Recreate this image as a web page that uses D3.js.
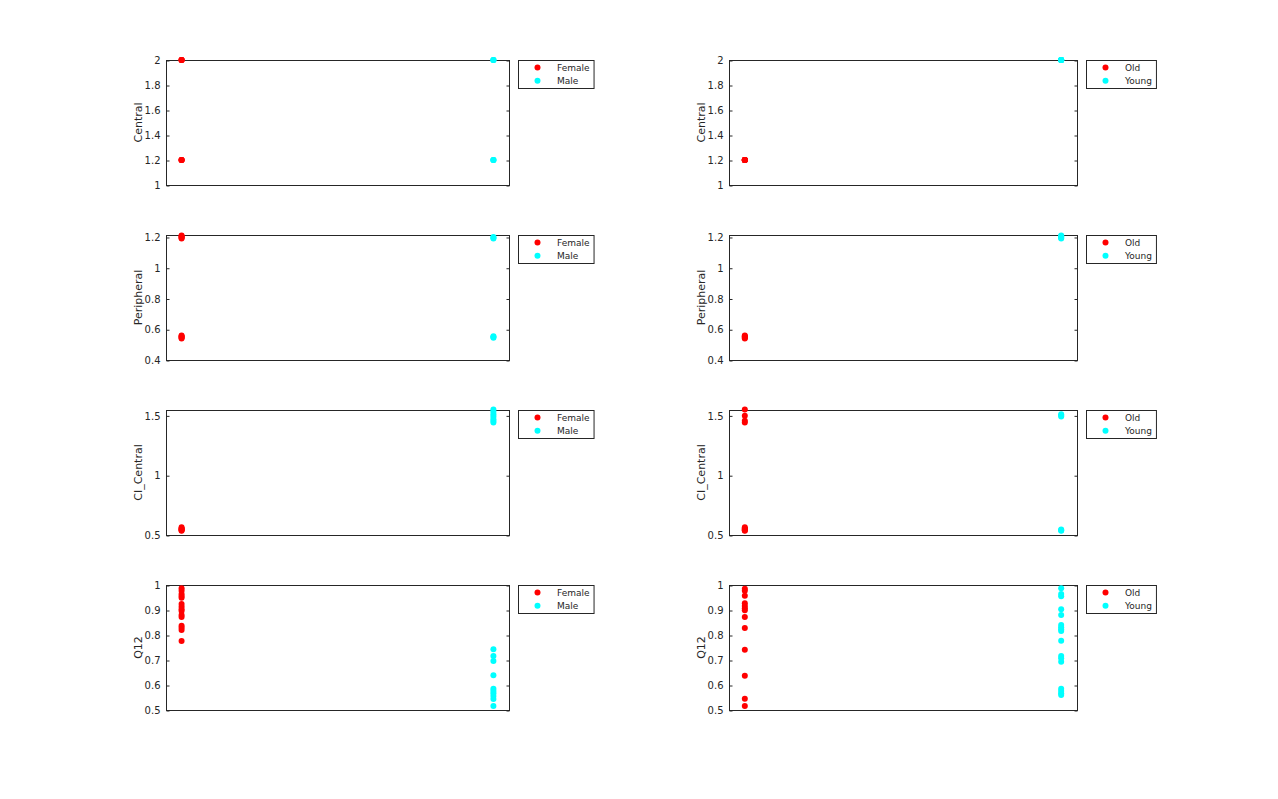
<!DOCTYPE html>
<html>
<head>
<meta charset="utf-8">
<script src="https://cdn.jsdelivr.net/npm/d3@7"></script>
<style>
  body { margin: 0; background: #fff; }
  svg { display: block; font-family: "DejaVu Sans", sans-serif; }
</style>
</head>
<body>
<svg id="chart" width="1278" height="799"></svg>
<script>
// ---------- data ----------
const sexGroups = ["Female", "Male"];
const ageGroups = ["Old", "Young"];
const groupX = [1, 2];
const xDomain = [0.95, 2.05];

const variables = ["Central", "Peripheral", "CI_Central", "Q12"];
const yDomains = [[1, 2], [0.4, 1.213], [0.5, 1.545], [0.5, 1]];
const yTicks = [
  [1, 1.2, 1.4, 1.6, 1.8, 2],
  [0.4, 0.6, 0.8, 1, 1.2],
  [0.5, 1, 1.5],
  [0.5, 0.6, 0.7, 0.8, 0.9, 1]
];

// Central
const centralFemale = [2, 2, 2, 2, 1.2, 1.2, 1.2, 1.2];
const centralMale   = [2, 2, 2, 1.2, 1.2, 1.2];
const centralOld    = [1.2, 1.2, 1.2, 1.2, 1.2, 1.2, 1.2];
const centralYoung  = [2, 2, 2, 2, 2, 2, 2];

// Peripheral
const peripheralFemale = [1.21, 1.205, 1.2, 1.195, 1.19, 0.56, 0.555, 0.55, 0.545, 0.54];
const peripheralMale   = [1.2, 1.195, 1.19, 0.555, 0.55, 0.545];
const peripheralOld    = [0.56, 0.555, 0.55, 0.545, 0.54];
const peripheralYoung  = [1.21, 1.205, 1.2, 1.195, 1.19];

// CI_Central
const ciCentralFemale = [0.565, 0.555, 0.55, 0.545, 0.54, 0.535];
const ciCentralMale   = [1.55, 1.53, 1.51, 1.49, 1.47, 1.455, 1.44];
const ciCentralOld    = [1.55, 1.497, 1.455, 1.44, 0.565, 0.555, 0.55, 0.545, 0.54, 0.535];
const ciCentralYoung  = [1.51, 1.5, 1.49, 0.545, 0.54, 0.535];

// Q12
const q12Female = [0.987, 0.977, 0.964, 0.956, 0.949, 0.924, 0.913, 0.903, 0.896, 0.88, 0.872, 0.837, 0.829, 0.82, 0.776];
const q12Male   = [0.743, 0.716, 0.696, 0.639, 0.585, 0.576, 0.567, 0.556, 0.544, 0.516];
const q12Old    = [0.985, 0.977, 0.957, 0.927, 0.916, 0.907, 0.899, 0.872, 0.828, 0.741, 0.637, 0.545, 0.516];
const q12Young  = [0.987, 0.964, 0.955, 0.903, 0.88, 0.84, 0.831, 0.823, 0.816, 0.777, 0.716, 0.707, 0.693, 0.585, 0.576, 0.567, 0.56];

const sexData = [[centralFemale, centralMale], [peripheralFemale, peripheralMale], [ciCentralFemale, ciCentralMale], [q12Female, q12Male]];
const ageData = [[centralOld, centralYoung], [peripheralOld, peripheralYoung], [ciCentralOld, ciCentralYoung], [q12Old, q12Young]];

const groupColors = ["#ff0000", "#00ffff"];

// ---------- layout ----------
const svg = d3.select("#chart");
const ink = "#262626";
const cols = [{ x0: 166, x1: 509, labels: sexGroups, data: sexData },
              { x0: 729, x1: 1077, labels: ageGroups, data: ageData }];
const rowTops = [60, 235, 410, 585];
const rowH = 125;
const fmt = d => String(+d.toFixed(2));

cols.forEach((col) => {
  const x = d3.scaleLinear().domain(xDomain).range([col.x0, col.x1]);
  variables.forEach((v, r) => {
    const top = rowTops[r], bottom = top + rowH;
    const y = d3.scaleLinear().domain(yDomains[r]).range([bottom, top]);
    const g = svg.append("g");

    // axes box
    g.append("rect")
      .attr("x", col.x0 + 0.5).attr("y", top + 0.5)
      .attr("width", col.x1 - col.x0).attr("height", rowH)
      .attr("fill", "none").attr("stroke", ink).attr("stroke-width", 1);

    // left axis (inward ticks)
    const axL = g.append("g").attr("transform", `translate(${col.x0 + 0.5},0.5)`)
      .call(d3.axisLeft(y).tickValues(yTicks[r]).tickFormat(fmt).tickSizeInner(-3).tickSizeOuter(0).tickPadding(6));
    axL.select(".domain").remove();
    axL.selectAll("line").attr("stroke", ink);
    axL.selectAll("text").attr("fill", ink).style("font-size", "10px").style("font-family", "DejaVu Sans, sans-serif");

    // right ticks
    const axR = g.append("g").attr("transform", `translate(${col.x1 + 0.5},0.5)`)
      .call(d3.axisRight(y).tickValues(yTicks[r]).tickFormat("").tickSizeInner(-3).tickSizeOuter(0));
    axR.select(".domain").remove();
    axR.selectAll("line").attr("stroke", ink);

    // y label
    g.append("text")
      .attr("transform", `translate(${col.x0 - 24},${(top + bottom) / 2}) rotate(-90)`)
      .attr("text-anchor", "middle")
      .attr("fill", ink).style("font-size", "11px")
      .text(v);

    // points
    col.data[r].forEach((vals, gi) => {
      g.append("g").selectAll("circle").data(vals).join("circle")
        .attr("cx", x(groupX[gi]))
        .attr("cy", d => y(d))
        .attr("r", 3)
        .attr("fill", groupColors[gi]);
    });

    // legend
    const lg = g.append("g").attr("transform", `translate(${col.x1 + 9},${top})`);
    const box = lg.append("rect").attr("x", 0.5).attr("y", 0.5).attr("height", 28)
      .attr("fill", "#fff").attr("stroke", ink).attr("stroke-width", 1);
    let maxW = 0;
    col.labels.forEach((lab, i) => {
      const cy = 7.5 + i * 13.3;
      lg.append("circle").attr("cx", 19.5).attr("cy", cy).attr("r", 3).attr("fill", groupColors[i]);
      const t = lg.append("text").attr("x", 39).attr("y", cy).attr("dy", "0.35em")
        .attr("fill", ink).style("font-size", "9px").text(lab);
      maxW = Math.max(maxW, t.node().getComputedTextLength());
    });
    box.attr("width", 39 + maxW + 4);
  });
});
</script>
</body>
</html>
